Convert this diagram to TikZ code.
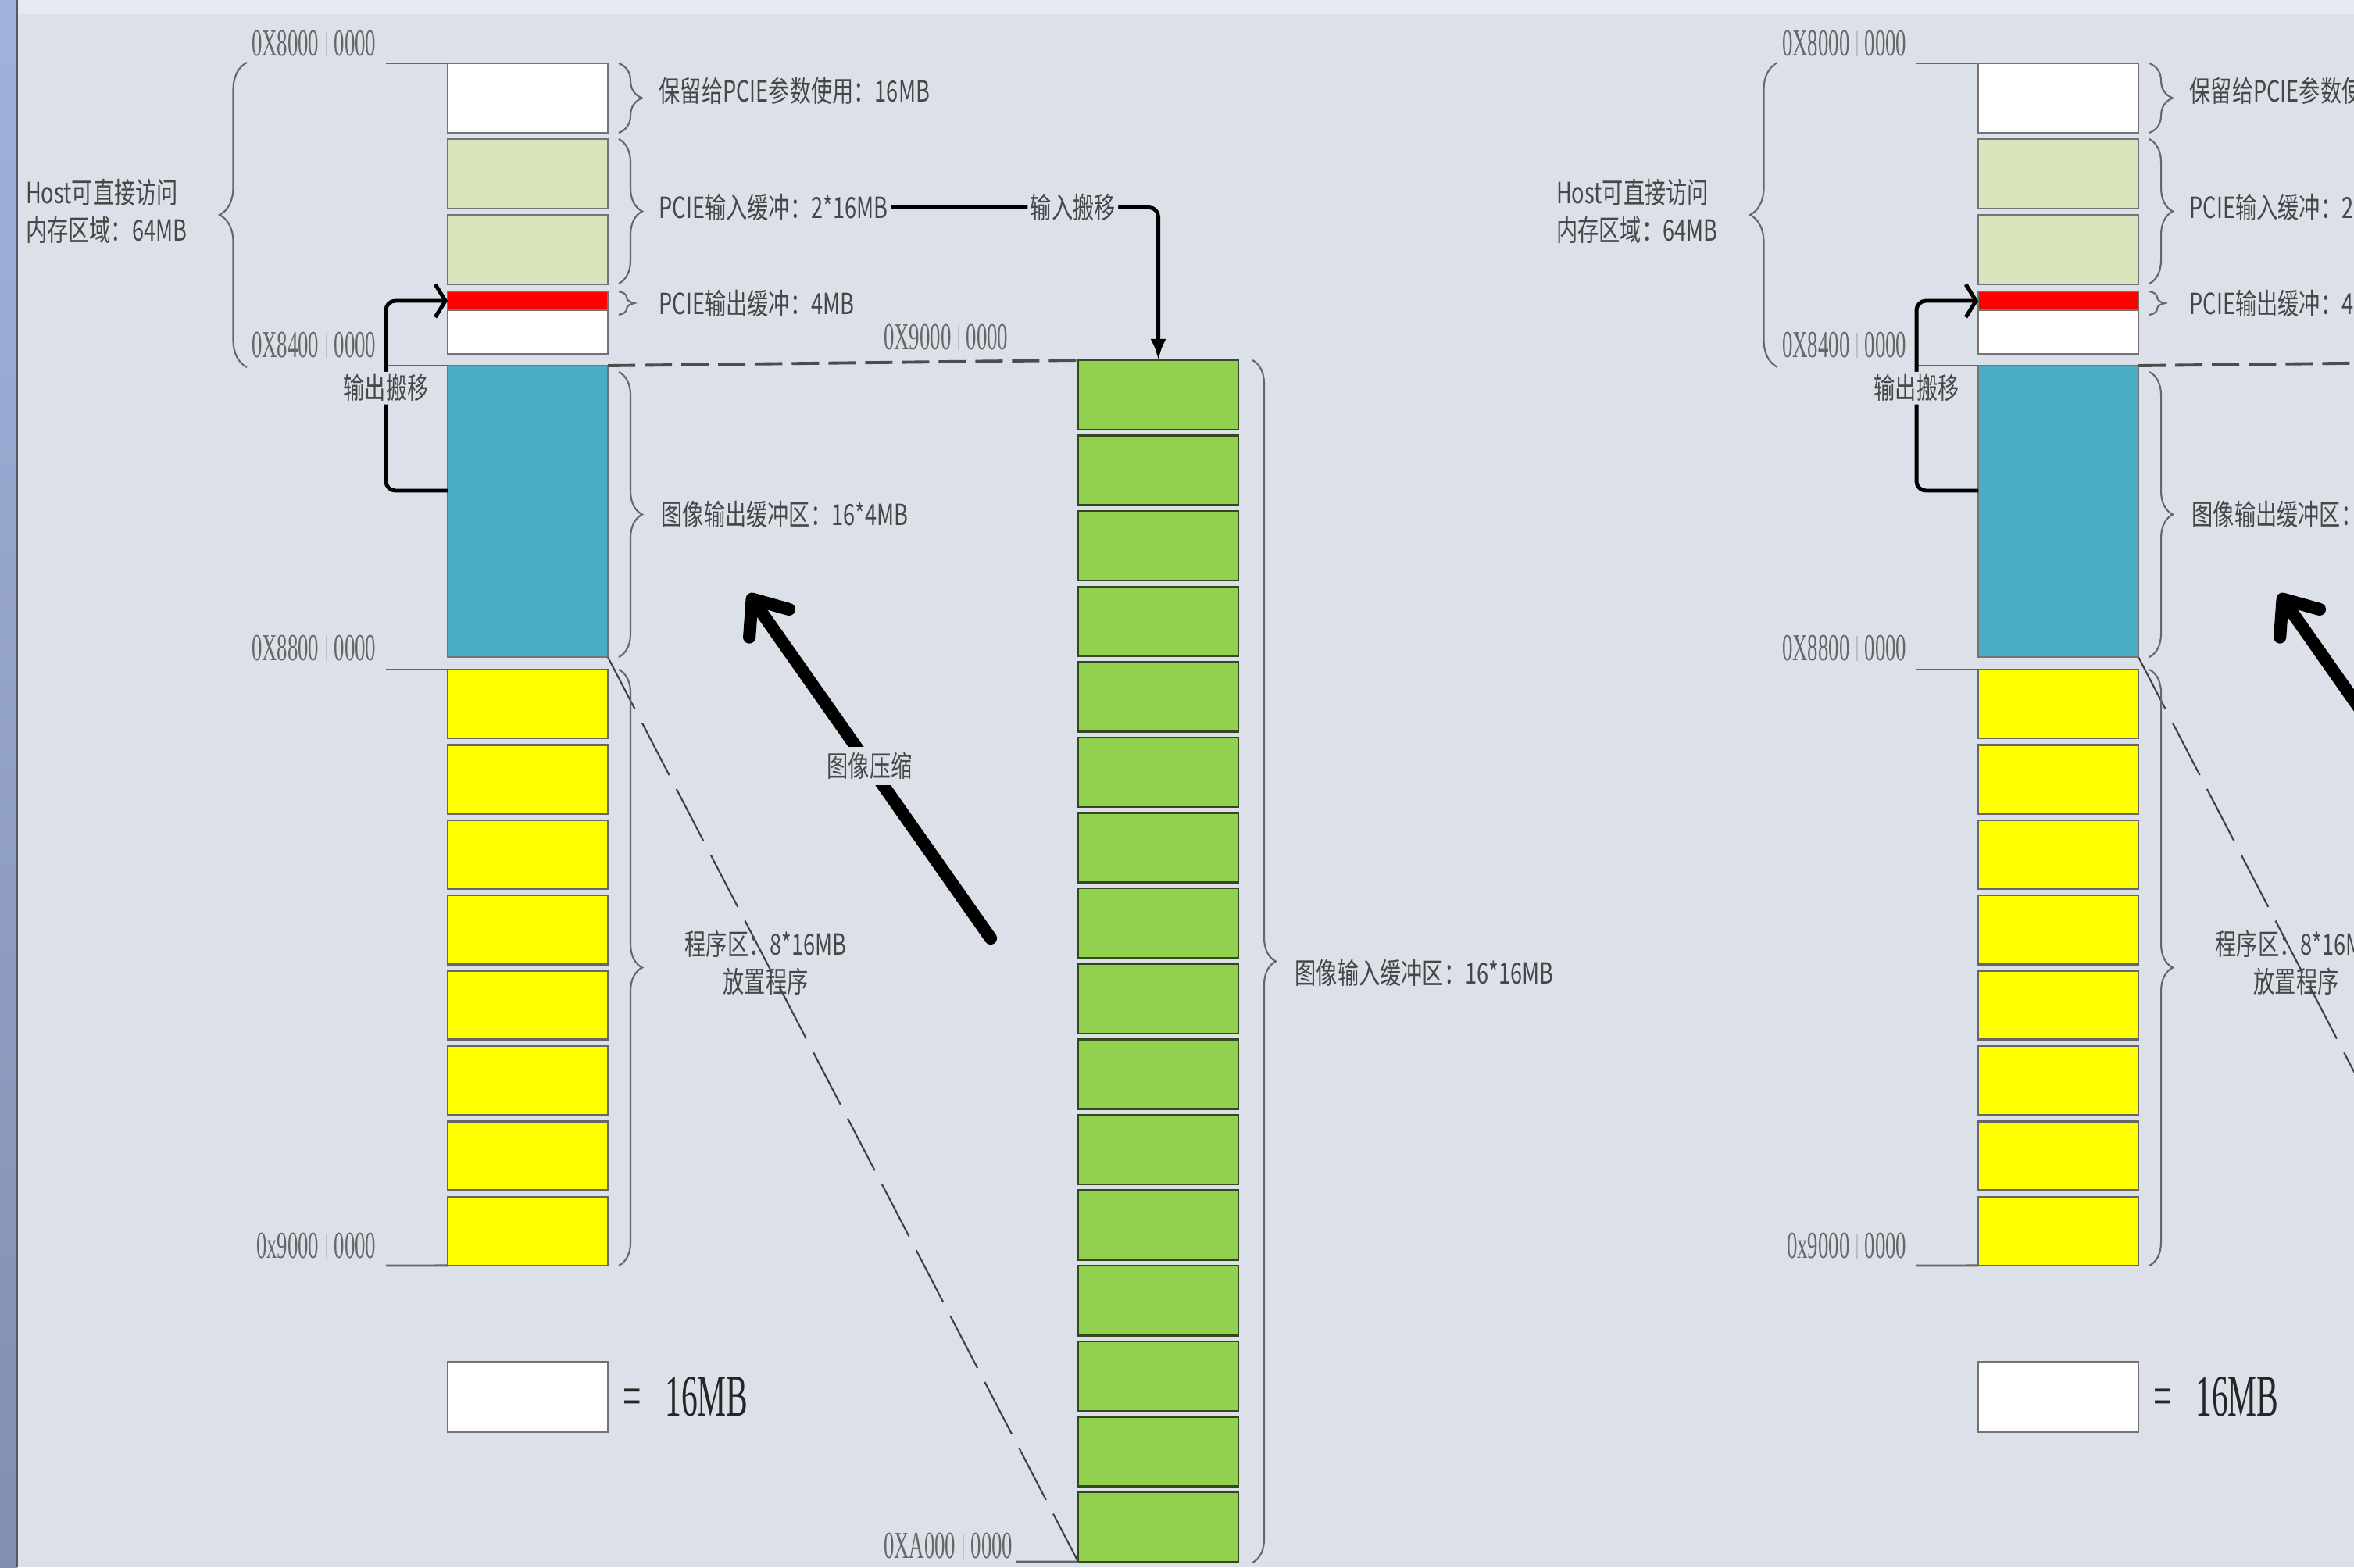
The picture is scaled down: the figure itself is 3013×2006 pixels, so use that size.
\documentclass[tikz,border=0pt]{standalone}
\usepackage{fontspec}
\usetikzlibrary{arrows.meta,decorations.pathreplacing}

\newfontfamily\cjk{Noto Sans CJK SC}[FakeStretch=0.73]
\newfontfamily\adrfont{Liberation Serif}[FakeStretch=0.55]

\definecolor{bg}{RGB}{220,224,232}
\definecolor{topbar}{RGB}{230,234,242}
\definecolor{sidebar}{RGB}{162,178,220}
\definecolor{pgreen}{RGB}{216,228,188}
\definecolor{cblue}{RGB}{75,172,198}
\definecolor{cgreen}{RGB}{146,208,80}
\definecolor{cyellow}{RGB}{255,255,0}

\newcommand\adr[2]{#1\hspace{2.5pt}{\color{black!25}\vrule width 0.5pt}\hspace{2.5pt}#2}

\tikzset{
  memmap/.pic={
    %colonna host
    \node[cella,fill=white] (w0) at (573,81) {};
    \node[cella,fill=pgreen] (p1) at (573,178) {};
    \node[cella,fill=pgreen] (p2) at (573,275) {};
    \node[cella,fill=red,minimum height=0.24cm] (red) at (573,373) {};
    \node[cella,fill=white,minimum height=0.56cm] (w1) at (573,397) {};
    \node[cella,fill=cblue,minimum height=3.73cm] (blue) at (573,468) {};
    \foreach \i in {0,...,7}
      \node[cella,fill=cyellow,draw=black!60,minimum height=0.88cm] (y\i) at (573,{857+96.4*\i}) {};

    %colonna verde
    \foreach \i in {0,...,15}
      \node[cella,fill=cgreen,draw=cgreen!35!black] (g\i) at (1380,{461+96.6*\i}) {};

    %indirizzi
    \draw[tick] (494,81) -- (w0.north west);
    \draw[tick] (494,468) -- (blue.north west);
    \draw[tick] (494,857) -- (y0.north west);
    \draw[tick] (494,1620) -- (y7.south west);
    \draw[tick] (1301,1999) -- (g15.south west);
    \node[adrlbl] (a0) at (482,56) {\adr{0X8000}{0000}};
    \node[adrlbl] (a1) at (482,442) {\adr{0X8400}{0000}};
    \node[adrlbl] (a2) at (482,830) {\adr{0X8800}{0000}};
    \node[adrlbl] (a3) at (482,1595) {\adr{0x9000}{0000}};
    \node[adrlbl] (a4) at (1291,432) {\adr{0X9000}{0000}};
    \node[adrlbl] (a5) at (1297,1979) {\adr{0XA000}{0000}};

    %tratteggi
    \draw[black!70,line width=1.1pt,dash pattern=on 0.35cm off 0.12cm] (blue.north east) -- (g0.north west);
    \draw[black!75,line width=0.6pt,dash pattern=on 0.75cm off 0.2cm] (blue.south east) -- (g15.south west);

    %graffe e label
    \draw[brc] (792,81) -- (792,170) node[lbl,midway,right=0.47cm,yshift=0.09cm] (lres) {保留给PCIE参数使用：16MB};
    \draw[brc] (792,178) -- (792,363) node[lbl,midway,right=0.47cm,yshift=0.05cm] (lin) {PCIE输入缓冲：2*16MB};
    \draw[brc,decoration={amplitude=0.2cm}] (792,373) -- (792,403) node[lbl,midway,right=0.47cm] (lout) {PCIE输出缓冲：4MB};
    \draw[brc] (792,476) -- (792,841) node[lbl,midway,right=0.5cm] (limg) {图像输出缓冲区：16*4MB};
    \draw[brc] (792,857) -- (792,1620) node[lbl,midway,right=0.8cm,yshift=0.06cm,align=center] (lprg) {程序区：8*16MB\\放置程序};
    \draw[brc] (1603,461) -- (1603,2000) node[lbl,midway,right=0.5cm,yshift=-0.15cm] (lgin) {图像输入缓冲区：16*16MB};
    \draw[brc,decoration={amplitude=0.35cm}] (316,470) -- (316,80) node[lbl,midway,left=0.72cm,yshift=0.05cm,align=left] (lhost) {Host可直接访问\\内存区域：64MB};

    %frecce搬移
    \draw[move,-{Latex[length=0.27cm,width=0.2cm]}] (lin.east) -| (g0.north)
      node[lbl,pos=0.34,fill=bg] {输入搬移};
    \coordinate (osrc) at (573,628);
    \draw[move,-{Straight Barb[length=0.13cm,width=0.42cm]}] (osrc) -- ++(-79,0) |- (red.west)
      node[lbl,pos=0.27,fill=bg] {输出搬移};

    %compressione
    \coordinate (ca) at (1268,1201);
    \coordinate (cb) at (958,760);
    \draw[bigarr] (ca) -- (cb) node[lbl,midway,fill=bg,inner sep=2pt] {图像压缩};

    %legenda
    \node[cella,fill=white,minimum height=0.9cm] (leg) at (573,1743) {};
    \node[anchor=west,inner sep=0,font=\fontsize{21.5pt}{24pt}\adrfont,text=black!85] (legt)
      at ([xshift=0.19cm]leg.east) {=\hspace{0.3cm}16MB};
  }
}

\begin{document}
\begin{tikzpicture}[x=0.01cm,y=-0.01cm,
    cella/.style={draw=black!55,line width=0.7pt,anchor=north west,minimum width=2.05cm,
      minimum height=0.89cm,inner sep=0,outer sep=0},
    tick/.style={draw=black!60,line width=0.8pt},
    brc/.style={decorate,decoration={brace,amplitude=0.3cm},draw=black!60,line width=0.6pt},
    lbl/.style={font=\fontsize{10.6pt}{13.6pt}\cjk,text=black!72,inner sep=1pt},
    adrlbl/.style={anchor=east,font=\fontsize{13.85pt}{15pt}\adrfont,text=black!60,inner sep=0},
    move/.style={line width=1.4pt,black,rounded corners=0.12cm},
    bigarr/.style={line width=4.6pt,line cap=round,-{Straight Barb[round,length=0.38cm,width=0.62cm]}}]

  \useasboundingbox (0,0) rectangle (3013,2006);
  \clip (0,0) rectangle (3013,2006);

  %sfondo finestra
  \fill[bg] (0,0) rectangle (3013,2006);
  \fill[topbar] (0,0) rectangle (3013,18);
  \shade[top color=sidebar,bottom color=sidebar!80!black] (0,0) rectangle (22,2006);
  \draw[sidebar!50!black,line width=0.6pt] (22,0) -- (22,2006);

  %due copie della mappa
  \pic (L) at (0,0) {memmap};
  \pic (R) at (1959,0) {memmap};

\end{tikzpicture}
\end{document}
